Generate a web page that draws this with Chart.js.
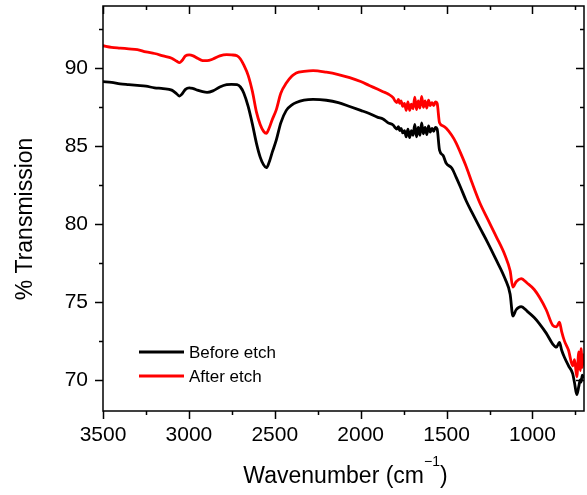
<!DOCTYPE html>
<html>
<head>
<meta charset="utf-8">
<script src="https://cdn.jsdelivr.net/npm/chart.js@4/dist/chart.umd.min.js"></script>
<style>
  html, body { margin: 0; padding: 0; background: #fff; }
  #wrap { width: 587px; height: 495px; position: relative; }
</style>
</head>
<body>
<div id="wrap"><canvas id="c"></canvas></div>
<script>
// FTIR spectra (wavenumber in cm-1, % transmission)
const wavenumbers = [
  3500, 3450, 3400, 3350, 3300, 3250, 3200, 3150, 3100, 3070, 3055, 3040, 3020, 2998,
  2975, 2950, 2920, 2894, 2860, 2820, 2780, 2752, 2720, 2700, 2680, 2655, 2630, 2607,
  2585, 2565, 2549, 2535, 2515, 2491, 2465, 2433, 2400, 2375, 2330, 2277, 2200, 2130,
  2064, 2000, 1950, 1900, 1870, 1840, 1810,
  1800, 1790, 1780, 1773, 1765, 1755, 1745, 1735, 1725, 1715, 1705, 1695, 1685, 1675,
  1665, 1655, 1645, 1635, 1625, 1615, 1605, 1595, 1585, 1575, 1565, 1555,
  1541, 1520, 1502, 1470, 1444, 1420, 1386, 1350, 1308,
  1260, 1211, 1160, 1130, 1114, 1095, 1066, 1030, 990, 959, 920, 882, 860, 843,
  830, 814, 790, 766, 755, 742, 730, 722, 717, 710, 702,
];
const beforeEtch = [
  89.15, 89.1, 89.0, 88.95, 88.9, 88.85, 88.75, 88.7, 88.6, 88.35, 88.22, 88.35, 88.65, 88.75,
  88.7, 88.6, 88.5, 88.46, 88.55, 88.8, 88.95, 88.97, 88.95, 88.8, 88.4, 87.55, 86.4, 85.2,
  84.3, 83.8, 83.62, 83.9, 84.6, 85.4, 86.5, 87.3, 87.65, 87.8, 87.95, 88.0, 87.95, 87.8,
  87.55, 87.3, 87.1, 86.85, 86.75, 86.5, 86.35,
  86.2, 86.1, 86.25, 86.0, 86.15, 85.85, 86.0, 85.6, 86.1, 85.55, 86.0, 85.7, 86.4, 85.6,
  86.2, 85.7, 86.5, 85.8, 86.2, 85.75, 86.3, 85.9, 86.15, 85.95, 86.2, 86.1,
  84.75, 84.4, 83.9, 83.6, 83.0, 82.4, 81.5, 80.7, 79.8,
  78.8, 77.7, 76.5, 75.5, 74.1, 74.5, 74.7, 74.4, 74.0, 73.6, 73.0, 72.3, 72.1, 72.4,
  71.9, 71.45, 70.9, 70.4, 69.8, 69.05, 69.6, 70.0, 69.85, 70.3, 70.1,
];
const afterEtch = [
  91.45, 91.35, 91.3, 91.25, 91.2, 91.05, 90.95, 90.8, 90.65, 90.45, 90.36, 90.5, 90.8, 90.86,
  90.8, 90.65, 90.5, 90.49, 90.6, 90.8, 90.88, 90.86, 90.8, 90.6, 90.2, 89.55, 88.5, 87.2,
  86.4, 85.95, 85.82, 86.1, 86.7, 87.35, 88.4, 89.05, 89.5, 89.7, 89.8, 89.85, 89.75, 89.6,
  89.4, 89.15, 88.9, 88.65, 88.5, 88.35, 88.1,
  87.9, 87.8, 88.0, 87.75, 87.9, 87.55, 87.75, 87.3, 87.85, 87.3, 87.7, 87.4, 88.15, 87.35,
  87.9, 87.45, 88.2, 87.5, 87.9, 87.45, 87.95, 87.6, 87.8, 87.6, 87.85, 87.75,
  86.5, 86.3, 86.15, 85.7, 85.2, 84.6, 83.7, 82.6, 81.4,
  80.3, 79.2, 78.0, 77.0, 75.95, 76.3, 76.5, 76.2, 75.8, 75.3, 74.5, 73.5, 73.4, 73.7,
  73.1, 72.5, 71.9, 70.9, 71.3, 70.2, 71.8, 70.6, 72.0, 70.8, 71.7,
];
const seriesLabels = ['Before etch', 'After etch'];
const seriesColors = ['#000000', '#ff0000'];
const xTicks = [1000, 1500, 2000, 2500, 3000, 3500];
const yTicks = [70, 75, 80, 85, 90];

const FONT = '"Liberation Sans", Arial, Helvetica, sans-serif';
const xRange = [700, 3500], yRange = [68, 94];

const toXY = (vals) => vals.map((v, i) => ({ x: wavenumbers[i], y: v }));

// Origin-style frame: outward ticks bottom/left, inward ticks top/right, minor ticks between
const framePlugin = {
  id: 'frame',
  afterDraw(chart) {
    const { ctx, chartArea: a, scales: { x, y } } = chart;
    ctx.save();
    ctx.strokeStyle = '#000';
    ctx.lineWidth = 1.5;
    ctx.strokeRect(a.left, a.top, a.right - a.left, a.bottom - a.top);
    ctx.beginPath();
    for (let w = 750; w <= 3500; w += 250) {
      const px = Math.round(x.getPixelForValue(w)) + 0.5;
      const len = w % 500 === 0 ? 8 : 4;
      ctx.moveTo(px, a.bottom); ctx.lineTo(px, a.bottom + len);
      ctx.moveTo(px, a.top); ctx.lineTo(px, a.top + len);
    }
    for (let v = 70; v <= 92.5; v += 2.5) {
      const py = Math.round(y.getPixelForValue(v)) + 0.5;
      const len = v % 5 === 0 ? 8 : 4;
      ctx.moveTo(a.left, py); ctx.lineTo(a.left - len, py);
      ctx.moveTo(a.right, py); ctx.lineTo(a.right - len, py);
    }
    ctx.stroke();

    ctx.fillStyle = '#000';
    // axis titles
    ctx.font = `23px ${FONT}`;
    ctx.textBaseline = 'alphabetic';
    const main = 'Wavenumber (cm', sup = '\u22121', close = ')';
    const wMain = ctx.measureText(main).width, wClose = ctx.measureText(close).width;
    ctx.font = `14px ${FONT}`;
    const wSup = ctx.measureText(sup).width;
    let tx = (a.left + a.right) / 2 + 2 - (wMain + wSup + wClose) / 2;
    const ty = 483;
    ctx.font = `23px ${FONT}`;
    ctx.fillText(main, tx, ty); tx += wMain;
    ctx.font = `14px ${FONT}`;
    ctx.fillText(sup, tx, ty - 17); tx += wSup;
    ctx.font = `23px ${FONT}`;
    ctx.fillText(close, tx, ty);

    ctx.save();
    ctx.translate(32, 219);
    ctx.rotate(-Math.PI / 2);
    ctx.textAlign = 'center';
    ctx.fillText('% Transmission', 0, 0);
    ctx.restore();

    // legend inside the plot, lower left
    ctx.font = `17px ${FONT}`;
    ctx.textBaseline = 'middle';
    ctx.textAlign = 'left';
    chart.data.datasets.forEach((ds, i) => {
      const ly = 352 + i * 24;
      ctx.strokeStyle = ds.borderColor;
      ctx.lineWidth = 3;
      ctx.beginPath(); ctx.moveTo(139, ly); ctx.lineTo(184, ly); ctx.stroke();
      ctx.fillText(ds.label, 189, ly + 1);
    });
    ctx.restore();
  },
};

new Chart(document.getElementById('c'), {
  type: 'line',
  data: {
    datasets: [beforeEtch, afterEtch].map((vals, i) => ({
      label: seriesLabels[i],
      data: toXY(vals),
      borderColor: seriesColors[i],
      borderWidth: 2.8,
      pointRadius: 0,
      cubicInterpolationMode: 'monotone',
      order: i,
    })),
  },
  options: {
    responsive: true,
    maintainAspectRatio: false,
    animation: false,
    layout: { padding: { top: 6, right: 3, left: 0, bottom: 0 } },
    plugins: { legend: { display: false }, tooltip: { enabled: false } },
    scales: {
      x: {
        type: 'linear',
        reverse: true,
        min: xRange[0], max: xRange[1],
        afterBuildTicks: (s) => { s.ticks = xTicks.map((v) => ({ value: v })); },
        afterFit: (s) => { s.height = 84; s.paddingLeft = 0; s.paddingRight = 0; },
        border: { display: false },
        grid: { drawOnChartArea: false, tickColor: 'transparent', tickLength: 8 },
        ticks: {
          autoSkip: false, maxRotation: 0, padding: 4,
          color: '#000', font: { size: 21, family: FONT },
          callback: (v) => String(v),
        },
      },
      y: {
        min: yRange[0], max: yRange[1],
        afterBuildTicks: (s) => { s.ticks = yTicks.map((v) => ({ value: v })); },
        afterFit: (s) => { s.width = 103; s.paddingTop = 0; s.paddingBottom = 0; },
        border: { display: false },
        grid: { drawOnChartArea: false, tickColor: 'transparent', tickLength: 8 },
        ticks: {
          autoSkip: false, padding: 7,
          color: '#000', font: { size: 21, family: FONT },
          callback: (v) => String(v),
        },
      },
    },
  },
  plugins: [framePlugin],
});
</script>
</body>
</html>
